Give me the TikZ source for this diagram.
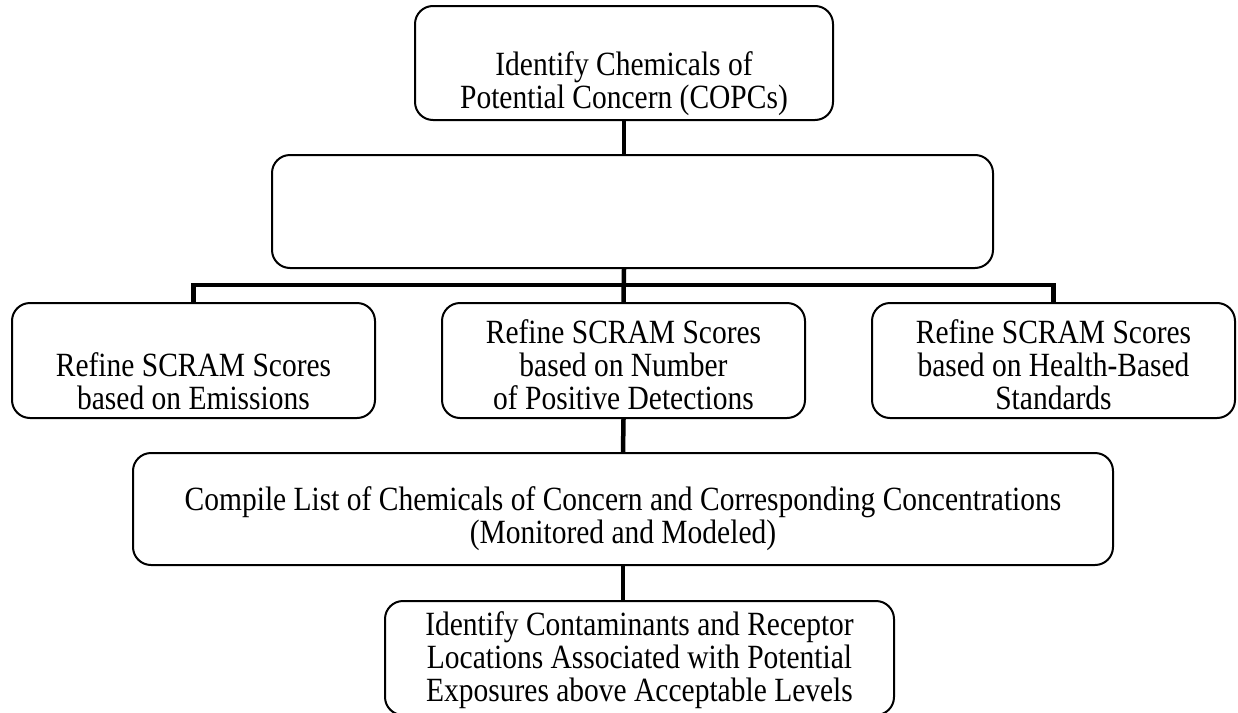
\documentclass[tikz,border=0pt]{standalone}
\usepackage{fontspec}
\setmainfont{Liberation Serif}
\begin{document}
\begin{tikzpicture}[x=1pt,y=-1pt,
  box/.style={draw=drawColor,line width=2pt,rounded corners=18pt,fill=fillColor,inner sep=0pt},
  txt/.style={text=drawColor,align=center,inner sep=0pt,yscale=1.15,transform shape,
    font=\fontsize{29.5}{28.7}\selectfont},
  link/.style={draw=drawColor,line width=4.5pt}]
\definecolor{drawColor}{RGB}{0,0,0}
\definecolor{fillColor}{RGB}{255,255,255}
\path[use as bounding box,fill=fillColor] (0,0) rectangle (1238,712);

% boxes
\node[box,minimum width=418,minimum height=114] (copc) at (624.0, 63.0) {};
\node[box,minimum width=721,minimum height=113] (screen) at (632.5,211.5) {};
\node[box,minimum width=363,minimum height=115] (emis) at (193.5,360.5) {};
\node[box,minimum width=363,minimum height=115] (detect) at (623.5,360.5) {};
\node[box,minimum width=363,minimum height=115] (health) at (1053.5,360.5) {};
\node[box,minimum width=980,minimum height=112] (compile) at (623.0,509.0) {};
\node[box,minimum width=509,minimum height=114] (expo) at (639.5,658.0) {};

% texts
\node[txt] (copc-t) at (624.0, 84.0) {Identify Chemicals of\\Potential Concern (COPCs)};
\node[txt] (emis-t) at (193.5,381.0) {Refine SCRAM Scores\\based on Emissions};
\node[txt] (detect-t) at (623.5,365.0) {Refine SCRAM Scores\\based on Number\\of Positive Detections};
\node[txt] (health-t) at (1053.5,365.0) {Refine SCRAM Scores\\based on Health-Based\\Standards};
\node[txt] (compile-t) at (623.0,518.5) {Compile List of Chemicals of Concern and Corresponding Concentrations\\(Monitored and Modeled)};
\node[txt] (expo-t) at (639.5,660.0) {Identify Contaminants and Receptor\\Locations Associated with Potential\\Exposures above Acceptable Levels};

% connectors
\draw[link] (copc.south) -- (copc.south |- screen.north);
\draw[link] (copc.south |- screen.south) -- (detect.north);
\draw[link] (emis.north) -- ++(0,-17) -| (health.north);
\draw[link] (detect.south) -- (compile.north);
\draw[link] (compile.south) -- (compile.south |- expo.north);
\end{tikzpicture}
\end{document}
